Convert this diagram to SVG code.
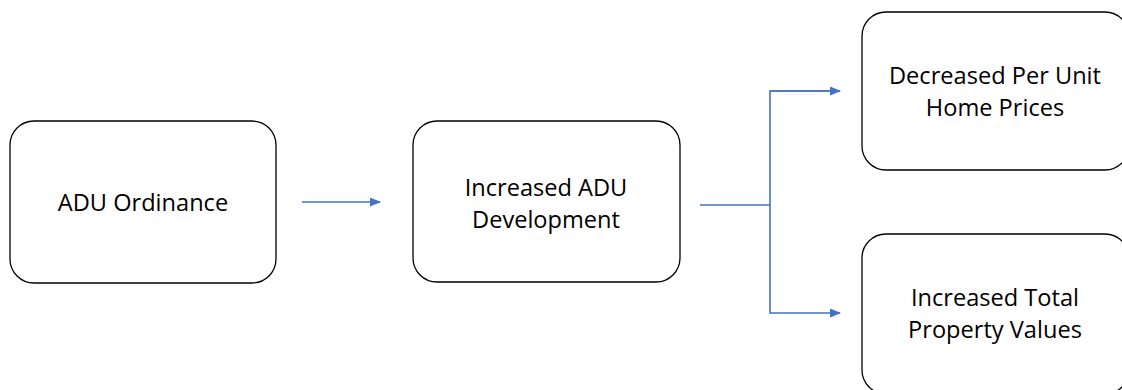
<svg xmlns="http://www.w3.org/2000/svg" width="1122" height="390" viewBox="0 0 1122 390">
<style>
.box{fill:#fff;stroke:#000;stroke-width:1.3}
.t{font-family:"Open Sans","Liberation Sans",sans-serif;font-size:23.6px;fill:#000;text-anchor:middle}
.c{fill:none;stroke:#4472C4;stroke-width:1.6}
</style>
<defs>
<marker id="ah" markerWidth="11" markerHeight="9" refX="10" refY="4.5" orient="auto" markerUnits="userSpaceOnUse">
<path d="M0,0 L11,4.5 L0,9 Z" fill="#4472C4"/>
</marker>
</defs>
<rect width="1122" height="390" fill="#fff"/>
<g id="n1"><rect class="box" x="10" y="121" width="266" height="162" rx="24"/><text class="t" x="143" y="211">ADU Ordinance</text></g>
<g id="n2"><rect class="box" x="413" y="121" width="267" height="161" rx="24"/><text class="t" x="546" y="196">Increased ADU</text><text class="t" x="546" y="228">Development</text></g>
<g id="n3"><rect class="box" x="862" y="12" width="267" height="158" rx="24"/><text class="t" x="995" y="84">Decreased Per Unit</text><text class="t" x="995" y="116">Home Prices</text></g>
<g id="n4"><rect class="box" x="862" y="234" width="267" height="160" rx="24"/><text class="t" x="995" y="306">Increased Total</text><text class="t" x="995" y="338">Property Values</text></g>
<g id="connectors">
<line class="c" x1="302" y1="202" x2="380" y2="202" marker-end="url(#ah)"/>
<line class="c" x1="700" y1="205" x2="770" y2="205"/>
<polyline class="c" points="840,91 770,91 770,313 840,313" marker-end="url(#ah)"/>
<line class="c" x1="770" y1="91" x2="840" y2="91" marker-end="url(#ah)"/>
</g>
</svg>
